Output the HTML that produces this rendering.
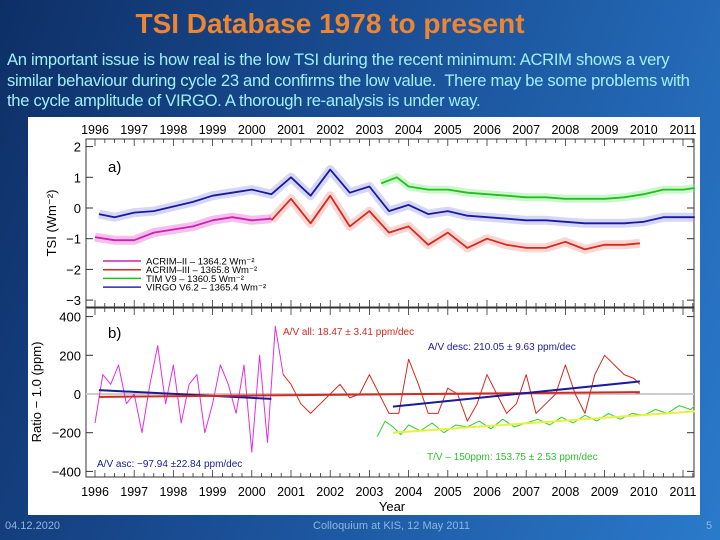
<!DOCTYPE html>
<html><head><meta charset="utf-8"><style>
html,body{margin:0;padding:0;width:720px;height:540px;overflow:hidden;font-family:"Liberation Sans",sans-serif}
#slide{position:relative;width:720px;height:540px;background:linear-gradient(110deg,#0e2f66 0%,#1a4f96 45%,#2a7acb 100%)}
#title{position:absolute;left:0;width:660px;top:8px;text-align:center;color:#ee8530;font-size:28px;font-weight:bold}
#body{position:absolute;left:7px;top:50px;width:700px;color:#9ff0f8;font-size:16.6px;line-height:20.5px;letter-spacing:-0.3px}
.foot{position:absolute;top:520px;color:#8fb6e0;font-size:11px}
svg{position:absolute;left:0;top:0}
</style></head><body>
<div id="slide">
<div id="title">TSI Database 1978 to present</div>
<div id="body">An important issue is how real is the low TSI during the recent minimum: ACRIM shows a very<br>similar behaviour during cycle 23 and confirms the low value.&nbsp; There may be some problems with<br>the cycle amplitude of VIRGO. A thorough re-analysis is under way.</div>
<div class="foot" style="left:5px">04.12.2020</div>
<div class="foot" style="left:313px">Colloquium at KIS, 12 May 2011</div>
<div class="foot" style="left:706px">5</div>
<svg id="chart" width="720" height="540"></svg>
</div>
<script>
const years=[1996,1997,1998,1999,2000,2001,2002,2003,2004,2005,2006,2007,2008,2009,2010,2011];
const ticksA=[2,1,0,-1,-2,-3];
const ticksB=[400,200,0,-200,-400];
const virgoT=[1996.1,1996.5,1997,1997.5,1998,1998.5,1999,1999.5,2000,2000.5,2001,2001.5,2002,2002.5,2003,2003.5,2004,2004.5,2005,2005.5,2006,2006.5,2007,2007.5,2008,2008.5,2009,2009.5,2010,2010.5,2011,2011.3];
const virgoV=[-0.2,-0.3,-0.15,-0.1,0.05,0.2,0.4,0.5,0.6,0.45,1.0,0.4,1.25,0.5,0.7,-0.1,0.1,-0.2,-0.1,-0.25,-0.3,-0.35,-0.4,-0.4,-0.45,-0.5,-0.5,-0.5,-0.45,-0.3,-0.3,-0.3];
const acrim2T=[1996,1996.5,1997,1997.5,1998,1998.5,1999,1999.5,2000,2000.5];
const acrim2V=[-0.95,-1.05,-1.05,-0.8,-0.7,-0.6,-0.4,-0.3,-0.4,-0.35];
const acrim3T=[2000.5,2001,2001.5,2002,2002.5,2003,2003.5,2004,2004.5,2005,2005.5,2006,2006.5,2007,2007.5,2008,2008.5,2009,2009.5,2009.9];
const acrim3V=[-0.4,0.3,-0.5,0.4,-0.6,-0.1,-0.8,-0.6,-1.2,-0.8,-1.3,-1.0,-1.2,-1.3,-1.3,-1.1,-1.35,-1.2,-1.2,-1.15];
const timT=[2003.3,2003.7,2004,2004.5,2005,2005.5,2006,2006.5,2007,2007.5,2008,2008.5,2009,2009.5,2010,2010.5,2011,2011.3];
const timV=[0.8,1.0,0.7,0.6,0.6,0.5,0.45,0.4,0.35,0.35,0.3,0.3,0.3,0.35,0.45,0.6,0.6,0.65];
const ratPinkT=[1996,1996.2,1996.4,1996.6,1996.8,1997,1997.2,1997.4,1997.6,1997.8,1998,1998.2,1998.4,1998.6,1998.8,1999,1999.2,1999.4,1999.6,1999.8,2000,2000.2,2000.4,2000.6,2000.8];
const ratPinkV=[-150,100,50,150,-50,0,-200,50,250,-50,150,-150,50,100,-200,-50,150,50,-100,150,-300,200,-250,350,100];
const ratRedT=[2000.8,2001,2001.25,2001.5,2001.75,2002,2002.25,2002.5,2002.75,2003,2003.25,2003.5,2003.75,2004,2004.25,2004.5,2004.75,2005,2005.25,2005.5,2005.75,2006,2006.25,2006.5,2006.75,2007,2007.25,2007.5,2007.75,2008,2008.25,2008.5,2008.75,2009,2009.25,2009.5,2009.75,2009.9];
const ratRedV=[100,50,-50,-100,-50,0,50,-20,0,100,0,-100,-100,180,50,-100,-100,30,0,-140,-50,100,0,-100,-50,100,-100,-50,0,150,0,-100,100,200,150,100,80,50];
const ratGreenT=[2003.2,2003.4,2003.6,2003.8,2004,2004.3,2004.6,2004.9,2005.2,2005.5,2005.8,2006.1,2006.4,2006.7,2007,2007.3,2007.6,2007.9,2008.2,2008.5,2008.8,2009.1,2009.4,2009.7,2010,2010.3,2010.6,2010.9,2011.2,2011.3];
const ratGreenV=[-220,-140,-170,-210,-160,-190,-150,-200,-160,-170,-140,-180,-130,-170,-150,-130,-160,-120,-150,-110,-140,-100,-130,-100,-110,-80,-100,-60,-80,-60];
const trendStartT=[1996.1,1996.1,2003.6,2003.6];
const trendEndT=[2000.5,2009.9,2009.9,2011.3];
const trendStartV=[20,-15,-65,-200];
const trendEndV=[-25,10,65,-90];
const trendColors=['#1a1a9a','#d42a20','#1a1a9a','#e8f040'];
const trendNames=['trend-av-asc','trend-av-all','trend-av-desc','trend-tv'];

const svg=document.getElementById('chart');
const NS='http://www.w3.org/2000/svg';
const X0=86,X1=694;
const xs=t=>95+(t-1996)*39.2;
const ya=v=>208-v*30.7;
const yb=v=>394-v*0.1935;
function mk(tag,attrs,parent){const e=document.createElementNS(NS,tag);for(const k in attrs)e.setAttribute(k,attrs[k]);(parent||svg).appendChild(e);return e;}
function txt(x,y,s,size,anchor,fill){const t=mk('text',{x:x,y:y,'font-size':size,'text-anchor':anchor||'start',fill:fill||'#000','font-family':'Liberation Sans, sans-serif'});t.textContent=s;return t;}

const bg=mk('rect',{x:28,y:117,width:672,height:398,fill:'#fff'});


const fA=mk('rect',{x:X0,y:139,width:X1-X0,height:168,fill:'none',stroke:'#333','stroke-width':1});


const fB=mk('rect',{x:X0,y:308,width:X1-X0,height:169,fill:'none',stroke:'#333','stroke-width':1});



for(let t=1996;t<=2011.3;t+=0.25){
  const major=Math.abs(t-Math.round(t))<0.01;const L=major?7:4;const x=xs(t);
  [[139,1],[307,-1],[308,1],[477,-1]].forEach(([y,d])=>{mk('line',{x1:x,x2:x,y1:y,y2:y+d*L,stroke:'#333','stroke-width':0.8});});
}
years.forEach(yv=>{
  const a=txt(xs(yv),134,String(yv),12.5,'middle');
  
  
  const b=txt(xs(yv),496,String(yv),12.5,'middle');
  
  
});
ticksA.forEach(v=>{
  const y=ya(v);
  mk('line',{x1:X0,x2:X0+7,y1:y,y2:y,stroke:'#333'});mk('line',{x1:X1,x2:X1-7,y1:y,y2:y,stroke:'#333'});
  const l=txt(X0-5,y+5,v<0?'\u2212'+(-v):String(v),13,'end');
  
  
});
ticksB.forEach(v=>{
  const y=yb(v);
  mk('line',{x1:X0,x2:X0+7,y1:y,y2:y,stroke:'#333'});mk('line',{x1:X1,x2:X1-7,y1:y,y2:y,stroke:'#333'});
  const l=txt(X0-5,y+5,v<0?'\u2212'+(-v):String(v),13,'end');
  
  
});
const t1=mk('text',{x:0,y:0,'font-size':13,'text-anchor':'middle',transform:'translate(56,223) rotate(-90)','font-family':'Liberation Sans, sans-serif'});t1.textContent='TSI (Wm\u207B\u00B2)';


const t2=mk('text',{x:0,y:0,'font-size':13,'text-anchor':'middle',transform:'translate(41,392) rotate(-90)','font-family':'Liberation Sans, sans-serif'});t2.textContent='Ratio \u2212 1.0  (ppm)';


const xt=txt(392,511,'Year',13,'middle');


const pa=txt(108,172,'a)',15);
const pb=txt(108,338,'b)',15);

function series(T,V,yf,color,w,op,name){
  let d='';T.forEach((t,i)=>{d+=(i?'L':'M')+xs(t).toFixed(1)+','+yf(V[i]).toFixed(1);});
  const p=mk('path',{d:d,fill:'none',stroke:color,'stroke-width':w,'stroke-opacity':op,'stroke-linejoin':'round'});
  
  
  return p;
}
series(virgoT,virgoV,ya,'#8a8ae8',9,0.35,'virgo-noise-band');
series(acrim2T,acrim2V,ya,'#e060d0',9,0.4,'acrim2-noise-band');
series(acrim3T,acrim3V,ya,'#f08a80',9,0.35,'acrim3-noise-band');
series(timT,timV,ya,'#80e880',8,0.4,'tim-noise-band');
series(acrim2T,acrim2V,ya,'#d020b0',1.8,1,'acrim2-line');
series(acrim3T,acrim3V,ya,'#d42a20',1.8,1,'acrim3-line');
series(timT,timV,ya,'#20c020',1.8,1,'tim-line');
series(virgoT,virgoV,ya,'#1a1aa0',1.8,1,'virgo-line');
const legN=['ACRIM\u2013II \u2013 1364.2 Wm\u207B\u00B2','ACRIM\u2013III \u2013 1365.8 Wm\u207B\u00B2','TIM V9 \u2013 1360.5 Wm\u207B\u00B2','VIRGO V6.2 \u2013 1365.4 Wm\u207B\u00B2'];
const legC=['#d020b0','#d42a20','#20c020','#2a2ab0'];
legN.forEach((s,i)=>{const y=261+i*8.7;
  const l=mk('line',{x1:103,x2:141,y1:y,y2:y,stroke:legC[i],'stroke-width':1.5});
  
  
  const t=txt(146,y+3.5,s,9.5);
  
  
});
mk('line',{x1:X0,x2:X1,y1:yb(0),y2:yb(0),stroke:'#ccc','stroke-width':2});
series(ratPinkT,ratPinkV,yb,'#e030e0',1,1,'ratio-acrim2-virgo');
series(ratRedT,ratRedV,yb,'#d42a20',1,1,'ratio-acrim3-virgo');
series(ratGreenT,ratGreenV,yb,'#30d030',1,1,'ratio-tim-virgo');
trendStartT.forEach((t,i)=>{
  const l=mk('line',{x1:xs(t),y1:yb(trendStartV[i]),x2:xs(trendEndT[i]),y2:yb(trendEndV[i]),stroke:trendColors[i],'stroke-width':2});
  
  
});
const a1=txt(283,335,'A/V all:  18.47 \u00B1 3.41 ppm/dec',10,'start','#d42a20');
const a2=txt(428,350,'A/V desc: 210.05 \u00B1 9.63 ppm/dec',10,'start','#1a1a9a');
const a3=txt(97,467,'A/V asc: \u221297.94 \u00B122.84 ppm/dec',10,'start','#1a1a9a');
const a4=txt(427,460,'T/V \u2013 150ppm: 153.75 \u00B1 2.53 ppm/dec',10,'start','#30c030');
</script>
</body></html>
